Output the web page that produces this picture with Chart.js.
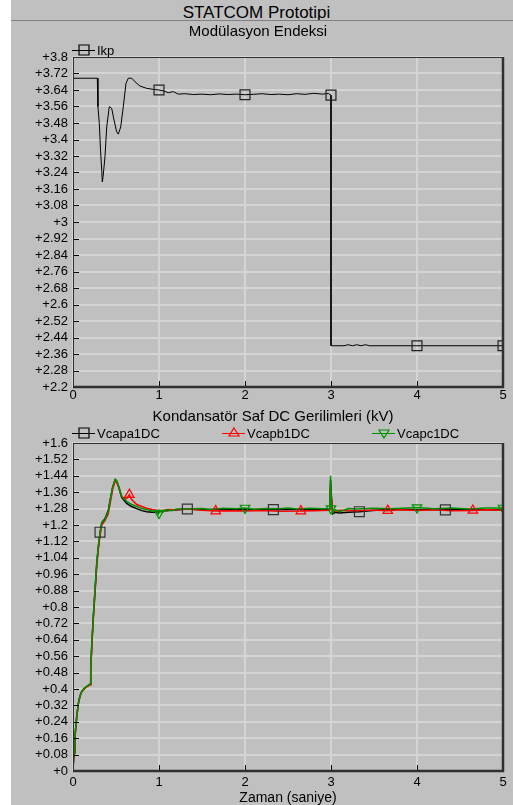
<!DOCTYPE html>
<html>
<head>
<meta charset="utf-8">
<script src="https://cdn.jsdelivr.net/npm/chart.js@4.4.1/dist/chart.umd.min.js"></script>
<style>
  html, body { margin: 0; padding: 0; width: 513px; height: 805px; overflow: hidden;
    background: #c0c0c0; font-family: Arial, "Liberation Sans", sans-serif; }
  #edge { position: absolute; left: 0; top: 0; width: 11px; height: 805px; background: #ffffff; }
  #head { position: absolute; left: 0; top: 0; width: 513px; height: 20px; text-align: center;
    font-size: 17px; line-height: 26px; color: #000; }
  #rule { position: absolute; left: 11px; top: 20px; width: 502px; height: 1px; background: #808080; }
  canvas { position: absolute; left: 0; }
  #c1 { top: 21px; }
  #c2 { top: 405px; }
</style>
</head>
<body>
<div id="edge"></div>
<div id="head">STATCOM Prototipi</div>
<div id="rule"></div>
<canvas id="c1" width="513" height="384"></canvas>
<canvas id="c2" width="513" height="402"></canvas>
<script>
// ---- Modulation index (Ikp) ----
const ikpTime = [0, 0.004, 0.283, 0.29, 0.306, 0.32, 0.334, 0.341, 0.35, 0.372, 0.392, 0.422, 0.45,
  0.477, 0.508, 0.527, 0.555, 0.585, 0.616, 0.643, 0.683, 0.721, 0.779, 0.857, 0.934, 1.0, 1.05,
  1.108, 1.166, 1.224, 1.3, 1.4, 1.5, 1.6, 1.7, 1.8, 1.9, 2.0, 2.1, 2.2, 2.3, 2.4, 2.5, 2.6, 2.7,
  2.8, 2.9, 2.97, 3.0, 3.0, 3.15, 3.2, 3.25, 3.3, 3.35, 3.4, 3.45, 3.5, 4.0, 5.0];
const ikpValue = [2.2, 3.697, 3.697, 3.559, 3.478, 3.348, 3.251, 3.194, 3.22, 3.316, 3.461, 3.559, 3.551,
  3.494, 3.437, 3.426, 3.461, 3.559, 3.672, 3.697, 3.697, 3.68, 3.659, 3.648, 3.643, 3.64, 3.636,
  3.627, 3.632, 3.62, 3.622, 3.618, 3.62, 3.617, 3.621, 3.618, 3.62, 3.617, 3.619, 3.622, 3.618, 3.62,
  3.617, 3.622, 3.619, 3.624, 3.62, 3.623, 3.615, 2.40, 2.40, 2.405, 2.40, 2.405, 2.40, 2.405, 2.40,
  2.40, 2.40, 2.40];
const ikpMarkTime = [1, 2, 3, 4, 5];
const ikpMarkValue = [3.64, 3.617, 3.615, 2.40, 2.40];
const ikpTicks = [2.2, 2.28, 2.36, 2.44, 2.52, 2.6, 2.68, 2.76, 2.84, 2.92, 3, 3.08, 3.16, 3.24,
  3.32, 3.4, 3.48, 3.56, 3.64, 3.72, 3.8];

// ---- Capacitor DC voltages (kV) ----
const vaTime = [0, 0.003, 0.012, 0.023, 0.043, 0.062, 0.08, 0.101, 0.13, 0.159, 0.198, 0.206, 0.217,
  0.236, 0.256, 0.276, 0.294, 0.314, 0.334, 0.372, 0.41, 0.43, 0.462, 0.49, 0.505, 0.527, 0.566,
  0.624, 0.68, 0.741, 0.8, 0.857, 0.92, 0.973, 1.05, 1.15, 1.33, 1.5, 1.7, 1.9, 2.1, 2.33, 2.5, 2.7,
  2.9, 2.985, 2.995, 3.005, 3.02, 3.05, 3.1, 3.2, 3.33, 3.45, 3.6, 3.8, 4.0, 4.33, 4.5, 4.7, 5.0];
const vaValue = [0, 0.03, 0.087, 0.167, 0.264, 0.328, 0.364, 0.387, 0.402, 0.412, 0.423, 0.49, 0.6,
  0.75, 0.88, 1.01, 1.09, 1.16, 1.212, 1.23, 1.27, 1.318, 1.385, 1.418, 1.414, 1.39, 1.335,
  1.305, 1.29, 1.28, 1.27, 1.265, 1.262, 1.262, 1.268, 1.272, 1.278, 1.275, 1.277, 1.274, 1.276,
  1.275, 1.277, 1.274, 1.276, 1.276, 1.42, 1.34, 1.255, 1.262, 1.258, 1.262, 1.265, 1.27, 1.274,
  1.276, 1.275, 1.274, 1.276, 1.274, 1.275];
const vaMarkTime = [0.314, 1.33, 2.33, 3.33, 4.33];
const vaMarkValue = [1.165, 1.278, 1.275, 1.265, 1.274];

const vbTime = [0, 0.003, 0.012, 0.023, 0.043, 0.062, 0.08, 0.101, 0.13, 0.159, 0.198, 0.206, 0.217,
  0.236, 0.256, 0.276, 0.294, 0.314, 0.334, 0.372, 0.41, 0.43, 0.462, 0.49, 0.505, 0.527, 0.566,
  0.6, 0.625, 0.655, 0.68, 0.741, 0.8, 0.857, 0.92, 0.973, 1.03, 1.1, 1.2, 1.33, 1.5, 1.66, 1.8,
  2.0, 2.2, 2.4, 2.65, 2.8, 2.985, 2.995, 3.005, 3.02, 3.1, 3.3, 3.5, 3.66, 3.8, 4.0, 4.2, 4.4,
  4.65, 4.8, 5.0];
const vbValue = [0, 0.03, 0.085, 0.165, 0.262, 0.327, 0.362, 0.385, 0.4, 0.41, 0.42, 0.485, 0.595,
  0.74, 0.87, 1.0, 1.08, 1.145, 1.2, 1.222, 1.255, 1.3, 1.375, 1.415, 1.412, 1.39, 1.34,
  1.325, 1.33, 1.348, 1.325, 1.30, 1.29, 1.282, 1.276, 1.272, 1.27, 1.276, 1.274, 1.278, 1.272,
  1.268, 1.27, 1.268, 1.271, 1.267, 1.268, 1.27, 1.272, 1.38, 1.33, 1.265, 1.272, 1.27, 1.273,
  1.27, 1.274, 1.271, 1.274, 1.27, 1.271, 1.274, 1.272];
const vbMarkTime = [0.655, 1.66, 2.65, 3.66, 4.65];
const vbMarkValue = [1.348, 1.268, 1.268, 1.27, 1.271];

const vcTime = [0, 0.003, 0.012, 0.023, 0.043, 0.062, 0.08, 0.101, 0.13, 0.159, 0.198, 0.206, 0.217,
  0.236, 0.256, 0.276, 0.294, 0.314, 0.334, 0.372, 0.41, 0.43, 0.462, 0.49, 0.505, 0.527, 0.566,
  0.624, 0.68, 0.741, 0.8, 0.857, 0.92, 0.973, 0.992, 1.01, 1.04, 1.09, 1.15, 1.2, 1.322, 1.5, 1.6,
  1.75, 1.9, 2.0, 2.1, 2.25, 2.4, 2.5, 2.6, 2.75, 2.9, 2.985, 2.995, 3.005, 3.02, 3.05, 3.1, 3.2,
  3.3, 3.5, 3.7, 3.9, 4.0, 4.2, 4.4, 4.6, 4.8, 5.0];
const vcValue = [0, 0.03, 0.088, 0.169, 0.266, 0.33, 0.365, 0.388, 0.403, 0.413, 0.424, 0.494, 0.608,
  0.754, 0.884, 1.015, 1.095, 1.161, 1.21, 1.226, 1.266, 1.315, 1.388, 1.424, 1.42, 1.395, 1.34,
  1.315, 1.30, 1.291, 1.28, 1.275, 1.268, 1.266, 1.252, 1.27, 1.262, 1.275, 1.27, 1.278, 1.278,
  1.281, 1.276, 1.282, 1.279, 1.283, 1.277, 1.281, 1.279, 1.283, 1.278, 1.282, 1.279, 1.28, 1.44,
  1.30, 1.26, 1.275, 1.265, 1.28, 1.278, 1.282, 1.279, 1.283, 1.285, 1.279, 1.283, 1.278, 1.283,
  1.283];
const vcMarkTime = [1, 2, 3, 4, 5];
const vcMarkValue = [1.258, 1.283, 1.28, 1.285, 1.283];

const vTicks = [0, 0.08, 0.16, 0.24, 0.32, 0.4, 0.48, 0.56, 0.64, 0.72, 0.8, 0.88, 0.96, 1.04,
  1.12, 1.2, 1.28, 1.36, 1.44, 1.52, 1.6];
const timeTicks = [0, 1, 2, 3, 4, 5];

const FONT = 'Arial, "Liberation Sans", sans-serif';
Chart.defaults.font.family = FONT;
Chart.defaults.color = '#000';

const pairs = (xs, ys) => xs.map((x, i) => ({ x: x, y: ys[i] }));
const plusLabel = v => '+' + parseFloat(Number(v).toFixed(2));

function drawMarker(ctx, shape, x, y, color) {
  ctx.save();
  ctx.strokeStyle = color;
  ctx.lineWidth = 1.2;
  ctx.beginPath();
  if (shape === 'rect') {
    ctx.rect(x - 5, y - 5, 10, 10);
  } else if (shape === 'up') {
    ctx.moveTo(x, y - 5); ctx.lineTo(x + 5, y + 3); ctx.lineTo(x - 5, y + 3); ctx.closePath();
  } else {
    ctx.moveTo(x, y + 5); ctx.lineTo(x + 5, y - 3); ctx.lineTo(x - 5, y - 3); ctx.closePath();
  }
  ctx.stroke();
  ctx.restore();
}

// panel heading, frame, inner tick marks and series key
function panelPlugin(heading, keyY, keyItems) {
  return {
    id: 'panel',
    afterDraw(chart) {
      const { ctx, chartArea: a, scales } = chart;
      ctx.save();
      ctx.strokeStyle = '#000';
      ctx.lineWidth = 1;
      scales.y.ticks.forEach(t => {
        const y = Math.round(scales.y.getPixelForValue(t.value)) + 0.5;
        ctx.beginPath(); ctx.moveTo(a.left, y); ctx.lineTo(a.left + 6, y); ctx.stroke();
      });
      scales.x.ticks.forEach(t => {
        const x = Math.round(scales.x.getPixelForValue(t.value)) + 0.5;
        ctx.beginPath(); ctx.moveTo(x, a.bottom); ctx.lineTo(x, a.bottom - 6); ctx.stroke();
      });
      ctx.strokeStyle = '#303030';
      ctx.lineWidth = 1;
      ctx.beginPath();
      ctx.moveTo(a.left + 0.5, a.bottom); ctx.lineTo(a.left + 0.5, a.top + 0.5); ctx.lineTo(a.right, a.top + 0.5);
      ctx.stroke();
      ctx.lineWidth = 2.5;
      ctx.beginPath();
      ctx.moveTo(a.left, a.bottom); ctx.lineTo(a.right, a.bottom); ctx.lineTo(a.right, a.top);
      ctx.stroke();

      ctx.fillStyle = '#000';
      ctx.textBaseline = 'middle';
      ctx.textAlign = 'center';
      ctx.font = '15px ' + FONT;
      ctx.fillText(heading.text, heading.x, heading.y);

      ctx.font = '13px ' + FONT;
      ctx.textAlign = 'left';
      keyItems.forEach(it => {
        ctx.strokeStyle = it.color;
        ctx.lineWidth = 1;
        ctx.beginPath(); ctx.moveTo(it.x, keyY + 0.5); ctx.lineTo(it.x + 23, keyY + 0.5); ctx.stroke();
        drawMarker(ctx, it.shape, it.x + 12, keyY, it.color);
        ctx.fillStyle = '#000';
        ctx.fillText(it.label, it.x + 25, keyY + 1);
      });
      ctx.restore();
    }
  };
}

const gridOpts = { color: '#d4d4d4', lineWidth: 2, drawTicks: false };

function xAxis(height, pad, title) {
  return {
    type: 'linear', min: 0, max: 5,
    afterBuildTicks: s => { s.ticks = timeTicks.map(v => ({ value: v })); },
    ticks: { font: { size: 13 }, padding: pad, autoSkip: false, maxRotation: 0, callback: v => String(v) },
    grid: gridOpts, border: { display: false },
    title: title ? { display: true, text: title, font: { size: 14 }, padding: { top: 0, bottom: 0 } } : { display: false },
    afterFit: s => { s.height = height; }
  };
}
function yAxis(min, max, tickList) {
  return {
    type: 'linear', min: min, max: max,
    afterBuildTicks: s => { s.ticks = tickList.map(v => ({ value: v })); },
    ticks: { font: { size: 13 }, padding: 5, autoSkip: false, callback: plusLabel },
    grid: gridOpts, border: { display: false },
    afterFit: s => { s.width = 73; }
  };
}

new Chart(document.getElementById('c1'), {
  type: 'line',
  data: {
    datasets: [
      { label: 'Ikp', data: pairs(ikpTime, ikpValue), borderColor: '#000', borderWidth: 1,
        pointRadius: 0, tension: 0, order: 1 },
      { label: 'Ikp', data: pairs(ikpMarkTime, ikpMarkValue), showLine: false, pointStyle: 'rect',
        pointRadius: 7, pointBorderColor: '#222', pointBackgroundColor: 'rgba(0,0,0,0)',
        pointBorderWidth: 1.2, order: 0 }
    ]
  },
  options: {
    responsive: false, animation: false, devicePixelRatio: 1, parsing: false,
    layout: { padding: { left: 0, right: 10, top: 36, bottom: 0 } },
    plugins: { legend: { display: false }, tooltip: { enabled: false }, title: { display: false } },
    scales: { x: xAxis(18, 1), y: yAxis(2.2, 3.8, ikpTicks) }
  },
  plugins: [panelPlugin({ text: 'Modülasyon Endeksi', x: 258, y: 11 }, 29,
    [{ x: 72, shape: 'rect', color: '#000', label: 'Ikp' }])]
});

new Chart(document.getElementById('c2'), {
  type: 'line',
  data: {
    datasets: [
      { label: 'Vcapa1DC', data: pairs(vaTime, vaValue), borderColor: '#000', borderWidth: 1.5,
        pointRadius: 0, tension: 0, order: 5 },
      { label: 'Vcapb1DC', data: pairs(vbTime, vbValue), borderColor: '#ff0000', borderWidth: 1.5,
        pointRadius: 0, tension: 0, order: 4 },
      { label: 'Vcapc1DC', data: pairs(vcTime, vcValue), borderColor: '#009000', borderWidth: 1.5,
        pointRadius: 0, tension: 0, order: 3 },
      { label: 'Vcapa1DC', data: pairs(vaMarkTime, vaMarkValue), showLine: false, pointStyle: 'rect',
        pointRadius: 7, pointBorderColor: '#333', pointBackgroundColor: 'rgba(0,0,0,0)',
        pointBorderWidth: 1.2, order: 2 },
      { label: 'Vcapb1DC', data: pairs(vbMarkTime, vbMarkValue), showLine: false, pointStyle: 'triangle',
        pointRadius: 5.5, pointBorderColor: '#ff0000', pointBackgroundColor: 'rgba(0,0,0,0)',
        pointBorderWidth: 1.2, order: 1 },
      { label: 'Vcapc1DC', data: pairs(vcMarkTime, vcMarkValue), showLine: false, pointStyle: 'triangle',
        pointRotation: 180, pointRadius: 5.5, pointBorderColor: '#009000',
        pointBackgroundColor: 'rgba(0,0,0,0)', pointBorderWidth: 1.2, order: 0 }
    ]
  },
  options: {
    responsive: false, animation: false, devicePixelRatio: 1, parsing: false,
    layout: { padding: { left: 0, right: 10, top: 38, bottom: 0 } },
    plugins: { legend: { display: false }, tooltip: { enabled: false }, title: { display: false } },
    scales: { x: xAxis(36, 4, 'Zaman (saniye)'), y: yAxis(0, 1.6, vTicks) }
  },
  plugins: [panelPlugin({ text: 'Kondansatör Saf DC Gerilimleri (kV)', x: 273, y: 12 }, 28, [
    { x: 72, shape: 'rect', color: '#000', label: 'Vcapa1DC' },
    { x: 222, shape: 'up', color: '#ff0000', label: 'Vcapb1DC' },
    { x: 372, shape: 'down', color: '#009000', label: 'Vcapc1DC' }
  ])]
});
</script>
</body>
</html>
